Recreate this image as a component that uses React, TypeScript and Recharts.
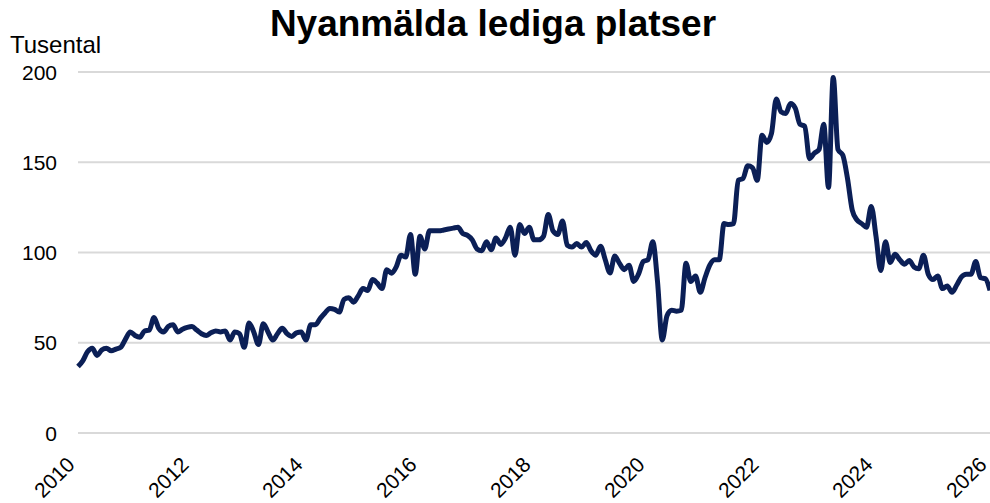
import { LineChart, Line, XAxis, YAxis, CartesianGrid } from 'recharts';

// Nyanmälda lediga platser, tusental, månadsvärden
const startYear = 2010;
const v2010 = [36.8, 40, 45, 47, 43, 46, 47, 45.5, 46.5, 47.5, 52, 56];
const v2011 = [54, 53, 56.5, 57, 64, 58, 56, 59, 60, 56, 57.5, 58.5];
const v2012 = [59, 57, 55, 54, 55.5, 56.5, 56, 56.5, 51.5, 56, 55, 47.5];
const v2013 = [61, 56, 49, 60.5, 56, 51.5, 55, 58, 55, 53.5, 55.5, 56];
const v2014 = [51.5, 60, 60, 63.5, 66.5, 69, 68.5, 67, 74, 75, 72.5, 76];
const v2015 = [80, 79, 85, 83, 80, 90.5, 88.5, 92, 98.5, 97.5, 110, 88];
const v2016 = [109, 102, 112, 112, 112, 112.5, 113, 113.5, 114, 110.5, 109.5, 107];
const v2017 = [102, 101, 106, 101.5, 108, 104.5, 108, 114, 98.5, 115.5, 110.5, 114];
const v2018 = [107, 107, 109, 121, 112, 110, 117.5, 104, 103, 105, 103, 105.5];
const v2019 = [101, 98.5, 103.5, 96, 88.7, 98, 94, 90.5, 93, 84, 88, 95];
const v2020 = [96, 106, 84, 51.5, 65, 68, 67.5, 68, 94, 84, 87, 78];
const v2021 = [86, 93, 96, 96, 116, 115.5, 116, 140, 141, 148, 147, 140];
const v2022 = [165, 161, 166, 185, 178, 177, 182.5, 180, 171, 170, 152, 155];
const v2023 = [157, 171, 136, 197, 157, 154, 141, 123.5, 118, 116, 114, 125.5];
const v2024 = [109, 90, 106, 94.5, 99, 96, 93.5, 95.5, 92, 91, 98.5, 88];
const v2025 = [85, 87, 80, 81.5, 78, 82, 86.5, 88, 88, 95, 86, 85.5];
const v2026 = [79];

const yearTicks = [2010, 2012, 2014, 2016, 2018, 2020, 2022, 2024, 2026];
const valueTicks = [0, 50, 100, 150, 200];

const allValues = [
  ...v2010, ...v2011, ...v2012, ...v2013, ...v2014, ...v2015, ...v2016, ...v2017,
  ...v2018, ...v2019, ...v2020, ...v2021, ...v2022, ...v2023, ...v2024, ...v2025, ...v2026,
];
const data = allValues.map((v, i) => ({ t: startYear + i / 12, v }));

const font = '"Liberation Sans", Arial, sans-serif';

const XTick = (props: any) => {
  const { x, payload } = props;
  const tx = x - 2;
  const ty = 466;
  return (
    <text x={tx} y={ty} transform={`rotate(-45, ${tx}, ${ty})`} textAnchor="end" fontSize={21} fill="#000" fontFamily={font}>
      {payload.value}
    </text>
  );
};

const YTick = (props: any) => {
  const { y, payload } = props;
  return (
    <text x={57} y={y} dy={7.5} textAnchor="end" fontSize={21} fill="#000" fontFamily={font}>
      {payload.value}
    </text>
  );
};

export default function App() {
  return (
    <div style={{ position: 'absolute', left: 0, top: 0, width: 990, height: 503, background: '#fff', fontFamily: font }}>
      <div style={{ position: 'absolute', left: 0, width: 986, top: 3, textAlign: 'center', fontSize: 37, fontWeight: 'bold', color: '#000' }}>
        Nyanmälda lediga platser
      </div>
      <div style={{ position: 'absolute', left: 10, top: 31, fontSize: 24, color: '#000' }}>Tusental</div>
      <LineChart width={990} height={503} data={data} margin={{ top: 72, right: 0, bottom: 0, left: 0 }}>
        <CartesianGrid vertical={false} stroke="#d9d9d9" strokeWidth={2} />
        <XAxis
          dataKey="t"
          type="number"
          domain={[2010, 2026]}
          ticks={yearTicks}
          axisLine={false}
          tickLine={false}
          tick={<XTick />}
          height={70}
          interval={0}
        />
        <YAxis
          domain={[0, 200]}
          ticks={valueTicks}
          axisLine={false}
          tickLine={false}
          tick={<YTick />}
          width={78}
        />
        <Line
          type="monotone"
          dataKey="v"
          stroke="#0b1f56"
          strokeWidth={5}
          dot={false}
          isAnimationActive={false}
        />
      </LineChart>
    </div>
  );
}
